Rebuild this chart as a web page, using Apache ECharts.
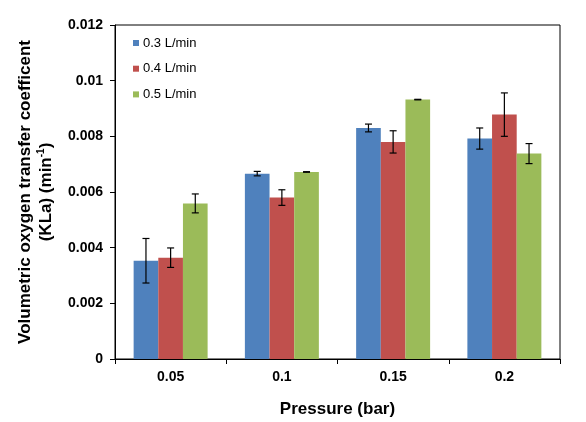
<!DOCTYPE html>
<html><head><meta charset="utf-8">
<script src="https://cdn.jsdelivr.net/npm/echarts@6/dist/echarts.min.js"></script>
<style>html,body{margin:0;padding:0;background:#fff}#c{width:586px;height:422px}</style>
</head><body><div id="c"></div>
<script>
const categories = ['0.05', '0.1', '0.15', '0.2'];
const seriesNames = ['0.3 L/min', '0.4 L/min', '0.5 L/min'];
const flow03 = [0.00353, 0.00666, 0.00830, 0.00792];
const flow04 = [0.00364, 0.00580, 0.00780, 0.00878];
const flow05 = [0.00559, 0.00672, 0.00932, 0.00738];
const err03 = [0.00080, 0.00008, 0.00014, 0.00038];
const err04 = [0.00035, 0.00028, 0.00040, 0.00078];
const err05 = [0.00034, 0.00001, 0.00001, 0.00036];
const yTicks = [0, 0.002, 0.004, 0.006, 0.008, 0.01, 0.012];
const colors = ['#4F81BD', '#C0504D', '#9BBB59'];

const values = [flow03, flow04, flow05];
const errors = [err03, err04, err05];
const catGap = 0.335;

const chart = echarts.init(document.getElementById('c'));
const barSeries = values.map((v, i) => ({
  name: seriesNames[i], type: 'bar', data: v, barGap: '0%', barCategoryGap: (catGap*100)+'%',
  itemStyle: {color: colors[i]}
}));
const errSeries = values.map((v, i) => ({
  type: 'custom', name: 'err' + i, silent: true, z: 10,
  data: v.map((val, k) => [k, val - errors[i][k], val + errors[i][k]]),
  renderItem: function (params, api) {
    const k = api.value(0);
    const catW = api.size([1, 0])[0];
    const bw = catW * (1 - catGap) / 3;
    const c = api.coord([k, 0]);
    const x = c[0] + (i - 1) * bw;
    const yLo = api.coord([k, api.value(1)])[1];
    const yHi = api.coord([k, api.value(2)])[1];
    const hw = 3.5;
    const st = {stroke: '#000', lineWidth: 1.2};
    return {type: 'group', children: [
      {type: 'line', shape: {x1: x, y1: yLo, x2: x, y2: yHi}, style: st},
      {type: 'line', shape: {x1: x - hw, y1: yLo, x2: x + hw, y2: yLo}, style: st},
      {type: 'line', shape: {x1: x - hw, y1: yHi, x2: x + hw, y2: yHi}, style: st}
    ]};
  }
}));

chart.setOption({
  animation: false,
  textStyle: {fontFamily: 'Liberation Sans, Arial, sans-serif'},
  grid: {left: 115, right: 26, top: 25, bottom: 63, show: true, borderColor: '#000', borderWidth: 1,
    containLabel: false, outerBoundsMode: 'none'},
  legend: {
    data: seriesNames, orient: 'vertical', left: 133, top: 36, padding: 0, itemGap: 11.7,
    itemWidth: 6, itemHeight: 6, icon: 'rect', itemStyle: {borderWidth: 0},
    textStyle: {fontSize: 13, lineHeight: 14, color: '#000', padding: [0, 0, 0, -1]}
  },
  xAxis: {
    type: 'category', data: categories,
    name: 'Pressure (bar)', nameLocation: 'middle', nameGap: 42,
    nameTextStyle: {fontSize: 17, fontWeight: 'bold', color: '#000'},
    axisLine: {lineStyle: {color: '#000'}},
    axisTick: {show: true, length: 5, lineStyle: {color: '#000'}},
    axisLabel: {fontSize: 14, fontWeight: 'bold', color: '#000', margin: 11}
  },
  yAxis: {
    type: 'value', min: 0, max: 0.012, interval: 0.002,
    name: 'Volumetric oxygen transfer coefficent\n(KLa) (min{sup|-1})',
    nameLocation: 'middle', nameRotate: 90, nameGap: 56,
    nameTextStyle: {fontSize: 17, fontWeight: 'bold', color: '#000', lineHeight: 21,
      rich: {sup: {fontSize: 10, fontWeight: 'bold', color: '#000', verticalAlign: 'top', lineHeight: 21}}},
    splitLine: {show: false},
    axisLine: {show: true, lineStyle: {color: '#000'}},
    axisTick: {show: true, length: 5, lineStyle: {color: '#000'}},
    axisLabel: {fontSize: 14, fontWeight: 'bold', color: '#000', margin: 12,
      formatter: function (v) { const t = yTicks.find(t => Math.abs(t - v) < 1e-9); return t === undefined ? '' : String(t); }}
  },
  series: barSeries.concat(errSeries)
});
</script></body></html>
